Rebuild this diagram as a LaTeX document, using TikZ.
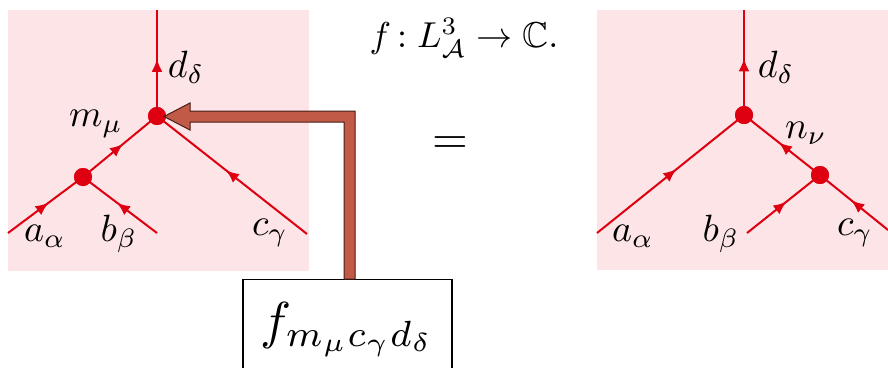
\documentclass[tikz,border=0pt]{standalone}
\usepackage{amsmath,amssymb}
\usepackage{graphicx}
\usetikzlibrary{decorations.markings,arrows.meta,calc}
\definecolor{pinkbg}{RGB}{253,228,230}
\definecolor{linered}{RGB}{222,0,16}
\definecolor{brownfill}{RGB}{194,90,72}
\definecolor{browndark}{RGB}{70,30,22}
\newcommand{\lblsc}[1]{\scalebox{3.8}{$#1$}}
\tikzset{
  bg/.style={fill=pinkbg, draw=none},
  edge/.style={draw=linered, line width=2pt,
    postaction={decorate, decoration={markings,
      mark=at position 0.54 with {\arrow{Latex[length=13pt,width=11pt]}}}}},
  thickedge/.style={edge, line width=2.8pt},
  vert/.style={circle, fill=linered, inner sep=0pt, minimum size=18pt},
  lbl/.style={inner sep=0pt},
  fbox/.style={draw=black, line width=1.2pt, fill=white, minimum width=209pt, minimum height=100pt, inner sep=0pt, anchor=north},
  bigarrow/.style={fill=brownfill, draw=browndark, line width=1pt, line join=miter}
}
\begin{document}
\begin{tikzpicture}[x=1pt,y=-1pt]
\useasboundingbox (0,0) rectangle (888,367);
\clip (0,0) rectangle (888,367);
\fill[white] (0,0) rectangle (888,367);
% backgrounds
\path[bg] (8,10) rectangle (309,271);
\path[bg] (597,10) rectangle (888,270);
% left tree
\coordinate (Ld) at (157,10);
\coordinate (La) at (8,233);
\coordinate (Lb) at (157,233);
\coordinate (Lc) at (307,234);
\node[vert] (v1) at (157,116) {};
\node[vert] (v2) at (83,177) {};
\draw[edge] (La) -- (v2.center);
\draw[edge] (Lb) -- (v2.center);
\draw[edge] (v2.center) -- (v1.center);
\draw[edge] (Lc) -- (v1.center);
\draw[thickedge] (v1.center) -- (Ld);
\node[vert] at (v1) {};
\node[vert] at (v2) {};
\node[lbl] (ld) at (186,67) {\lblsc{d_\delta}};
\node[lbl] (lm) at (96,124) {\lblsc{m_\mu}};
\node[lbl] (la) at (45,236) {\lblsc{a_\alpha}};
\node[lbl] (lb) at (119,234) {\lblsc{b_\beta}};
\node[lbl] (lc) at (270,233) {\lblsc{c_\gamma}};
% right tree
\coordinate (Rd) at (744,10);
\coordinate (Ra) at (597,233);
\coordinate (Rb) at (747,233);
\coordinate (Rc) at (888,230);
\node[vert] (w1) at (744,115) {};
\node[vert] (w2) at (820,175) {};
\draw[edge] (Ra) -- (w1.center);
\draw[edge] (w2.center) -- (w1.center);
\draw[edge] (Rb) -- (w2.center);
\draw[edge] (Rc) -- (w2.center);
\draw[thickedge] (w1.center) -- (Rd);
\node[vert] at (w1) {};
\node[vert] at (w2) {};
\node[lbl] (rd) at (776,67) {\lblsc{d_\delta}};
\node[lbl] (rn) at (806,133) {\lblsc{n_\nu}};
\node[lbl] (ra) at (633,236) {\lblsc{a_\alpha}};
\node[lbl] (rb) at (721,234) {\lblsc{b_\beta}};
\node[lbl] (rc) at (855,233) {\lblsc{c_\gamma}};
% title and equals
\node[inner sep=0pt] (title) at (464,38) {\scalebox{3.6}{$f\,{:}\;L^3_{\mathcal{A}}\to\mathbb{C}.$}};
\node[inner sep=0pt] (eq) at (450,145) {\scalebox{4.6}{$=$}};
% box
\node[fbox] (box) at (347.5,279) {\scalebox{5.2}{$f_{m_\mu c_\gamma d_\delta}$}};
% brown arrow from box to vertex
\coordinate (tip) at (164,116.5);
\coordinate (corner) at (349.5,116.5);
\coordinate (foot) at (box.north -| corner);
\draw[bigarrow] (tip) -- ($(tip)+(26,-13.5)$) -- ($(tip)+(26,-5.5)$)
  -- ($(corner)+(5.5,-5.5)$) -- ($(foot)+(5.5,0)$) -- ($(foot)+(-5.5,0)$)
  -- ($(corner)+(-5.5,5.5)$) -- ($(tip)+(26,5.5)$) -- ($(tip)+(26,13.5)$) -- cycle;
\end{tikzpicture}
\end{document}
